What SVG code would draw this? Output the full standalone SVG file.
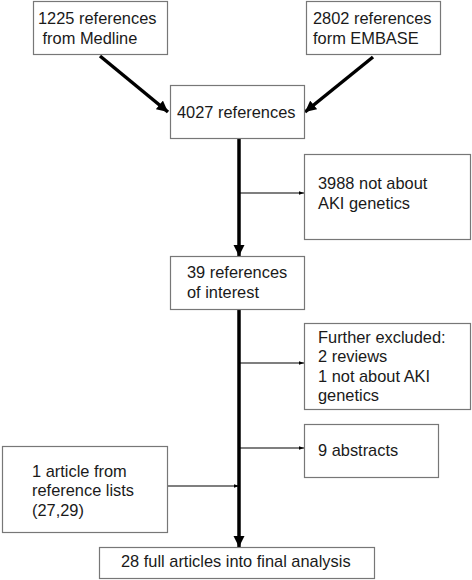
<svg xmlns="http://www.w3.org/2000/svg" width="472" height="580" viewBox="0 0 472 580">
<defs>
<marker id="big" viewBox="0 0 10 10" refX="10" refY="5" markerWidth="3.2" markerHeight="3.2" markerUnits="strokeWidth" orient="auto"><path d="M0,0 L10,5 L0,10 z" fill="#000"/></marker>
<marker id="small" viewBox="0 0 10 10" refX="10" refY="5" markerWidth="4.5" markerHeight="4.5" markerUnits="strokeWidth" orient="auto"><path d="M0,1.5 L10,5 L0,8.5 z" fill="#000"/></marker>
</defs>
<style>
.box{fill:#fff;stroke:#777;stroke-width:1.2}
text{font-family:"Liberation Sans",Arial,sans-serif;font-size:16.4px;fill:#1a1a1a}
.thick{stroke:#000;stroke-width:3.5;fill:none}
.thin{stroke:#000;stroke-width:1.2;fill:none}
</style>
<rect width="472" height="580" fill="#fff"/>
<g id="connectors">
<line class="thick" x1="100" y1="56" x2="168" y2="112" marker-end="url(#big)"/>
<line class="thick" x1="373" y1="57" x2="305" y2="112" marker-end="url(#big)"/>
<line class="thick" x1="239" y1="139" x2="239" y2="256" marker-end="url(#big)"/>
<line class="thick" x1="239" y1="310" x2="239" y2="547" marker-end="url(#big)"/>
<line class="thin" x1="239" y1="193" x2="304" y2="193" marker-end="url(#small)"/>
<line class="thin" x1="239" y1="363" x2="304" y2="363" marker-end="url(#small)"/>
<line class="thin" x1="239" y1="448" x2="304" y2="448" marker-end="url(#small)"/>
<line class="thin" x1="167" y1="486" x2="239" y2="486" marker-end="url(#small)"/>
</g>
<g id="medline">
<rect class="box" x="33.5" y="1.5" width="134" height="53"/>
<text x="38" y="24">1225 references</text>
<text x="38" y="44" xml:space="preserve"> from Medline</text>
</g>
<g id="embase">
<rect class="box" x="306.5" y="1.5" width="134" height="53"/>
<text x="313" y="24">2802 references</text>
<text x="313" y="44">form EMBASE</text>
</g>
<g id="total">
<rect class="box" x="170.5" y="85.5" width="134" height="53"/>
<text x="177" y="118">4027 references</text>
</g>
<g id="excluded1">
<rect class="box" x="304.5" y="154.5" width="166" height="85"/>
<text x="318" y="189">3988 not about</text>
<text x="318" y="209">AKI genetics</text>
</g>
<g id="interest">
<rect class="box" x="170.5" y="256.5" width="134" height="53"/>
<text x="187" y="278">39 references</text>
<text x="187" y="298">of interest</text>
</g>
<g id="excluded2">
<rect class="box" x="304.5" y="323.5" width="166" height="86"/>
<text x="318" y="343">Further excluded:</text>
<text x="318" y="362">2 reviews</text>
<text x="318" y="382">1 not about AKI</text>
<text x="318" y="401">genetics</text>
</g>
<g id="abstracts">
<rect class="box" x="304.5" y="424.5" width="134" height="53"/>
<text x="318" y="456">9 abstracts</text>
</g>
<g id="refs">
<rect class="box" x="2.5" y="446.5" width="165" height="86"/>
<text x="32" y="477">1 article from</text>
<text x="32" y="496">reference lists</text>
<text x="32" y="516">(27,29)</text>
</g>
<g id="final">
<rect class="box" x="99.5" y="547.5" width="275" height="31"/>
<text x="121" y="567">28 full articles into final analysis</text>
</g>
</svg>
